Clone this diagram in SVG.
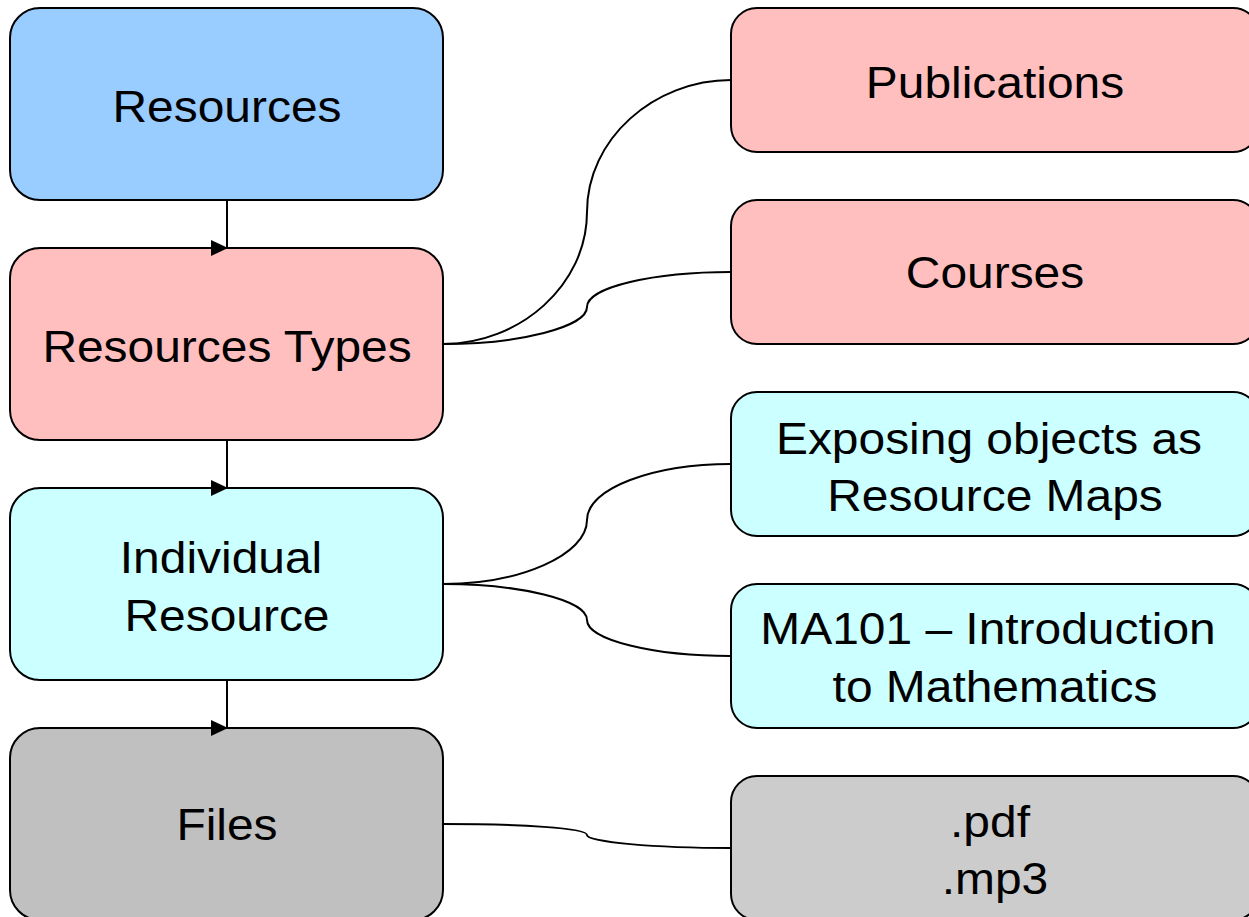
<svg xmlns="http://www.w3.org/2000/svg" width="1249" height="917" viewBox="0 0 1249 917">
<style>
.box{stroke:#000;stroke-width:2}
.conn{fill:none;stroke:#000;stroke-width:2}
.lbl{font-family:"Liberation Sans",Arial,sans-serif;font-size:45px;fill:#000;text-anchor:middle}
</style>
<rect width="1249" height="917" fill="#fff"/>
<g id="connectors">
<path class="conn" d="M227,200 V248 M227,440 V488 M227,680 V728"/>
<path class="conn" d="M443,344 C520,344 587,285 587,212 C587,139 654,80 731,80"/>
<path class="conn" d="M443,344 C520,344 587,327 587,307 C587,287 654,272 731,272"/>
<path class="conn" d="M443,584 C520,584 587,555 587,520 C587,488 654,464 731,464"/>
<path class="conn" d="M443,584 C520,584 587,600 587,620 C587,640 654,656 731,656"/>
<path class="conn" d="M443,824 C520,824 587,828 587,835 C587,842 654,848 731,848"/>
</g>
<g id="n-resources"><rect class="box" x="10" y="8" width="433" height="192" rx="30" fill="#99CCFF"/><text class="lbl" transform="matrix(1.065 0 0 1 227 0)" y="122">Resources</text></g>
<g id="n-types"><rect class="box" x="10" y="248" width="433" height="192" rx="30" fill="#FFBFBF"/><text class="lbl" transform="matrix(1.065 0 0 1 227 0)" y="362">Resources Types</text></g>
<g id="n-individual"><rect class="box" x="10" y="488" width="433" height="192" rx="30" fill="#CCFFFF"/><text class="lbl" transform="matrix(1.065 0 0 1 221 0)" y="573">Individual</text><text class="lbl" transform="matrix(1.065 0 0 1 227 0)" y="631">Resource</text></g>
<g id="n-files"><rect class="box" x="10" y="728" width="433" height="192" rx="30" fill="#C0C0C0"/><text class="lbl" transform="matrix(1.065 0 0 1 227 0)" y="840">Files</text></g>
<g id="n-publications"><rect class="box" x="731" y="8" width="528" height="144" rx="26" fill="#FFBFBF"/><text class="lbl" transform="matrix(1.065 0 0 1 995 0)" y="98">Publications</text></g>
<g id="n-courses"><rect class="box" x="731" y="200" width="528" height="144" rx="26" fill="#FFBFBF"/><text class="lbl" transform="matrix(1.065 0 0 1 995 0)" y="288">Courses</text></g>
<g id="n-exposing"><rect class="box" x="731" y="392" width="528" height="144" rx="26" fill="#CCFFFF"/><text class="lbl" transform="matrix(1.065 0 0 1 989 0)" y="454">Exposing objects as</text><text class="lbl" transform="matrix(1.065 0 0 1 995 0)" y="511">Resource Maps</text></g>
<g id="n-ma101"><rect class="box" x="731" y="584" width="528" height="144" rx="26" fill="#CCFFFF"/><text class="lbl" transform="matrix(1.065 0 0 1 988 0)" y="644">MA101 – Introduction</text><text class="lbl" transform="matrix(1.065 0 0 1 995 0)" y="702">to Mathematics</text></g>
<g id="n-formats"><rect class="box" x="731" y="776" width="528" height="144" rx="26" fill="#CCCCCC"/><text class="lbl" transform="matrix(1.065 0 0 1 990 0)" y="837">.pdf</text><text class="lbl" transform="matrix(1.065 0 0 1 995 0)" y="894">.mp3</text></g>
<g id="arrowheads" fill="#000">
<polygon points="211,240 228,248 211,256"/>
<polygon points="211,480 228,488 211,496"/>
<polygon points="211,720 228,728 211,736"/>
</g>
</svg>
